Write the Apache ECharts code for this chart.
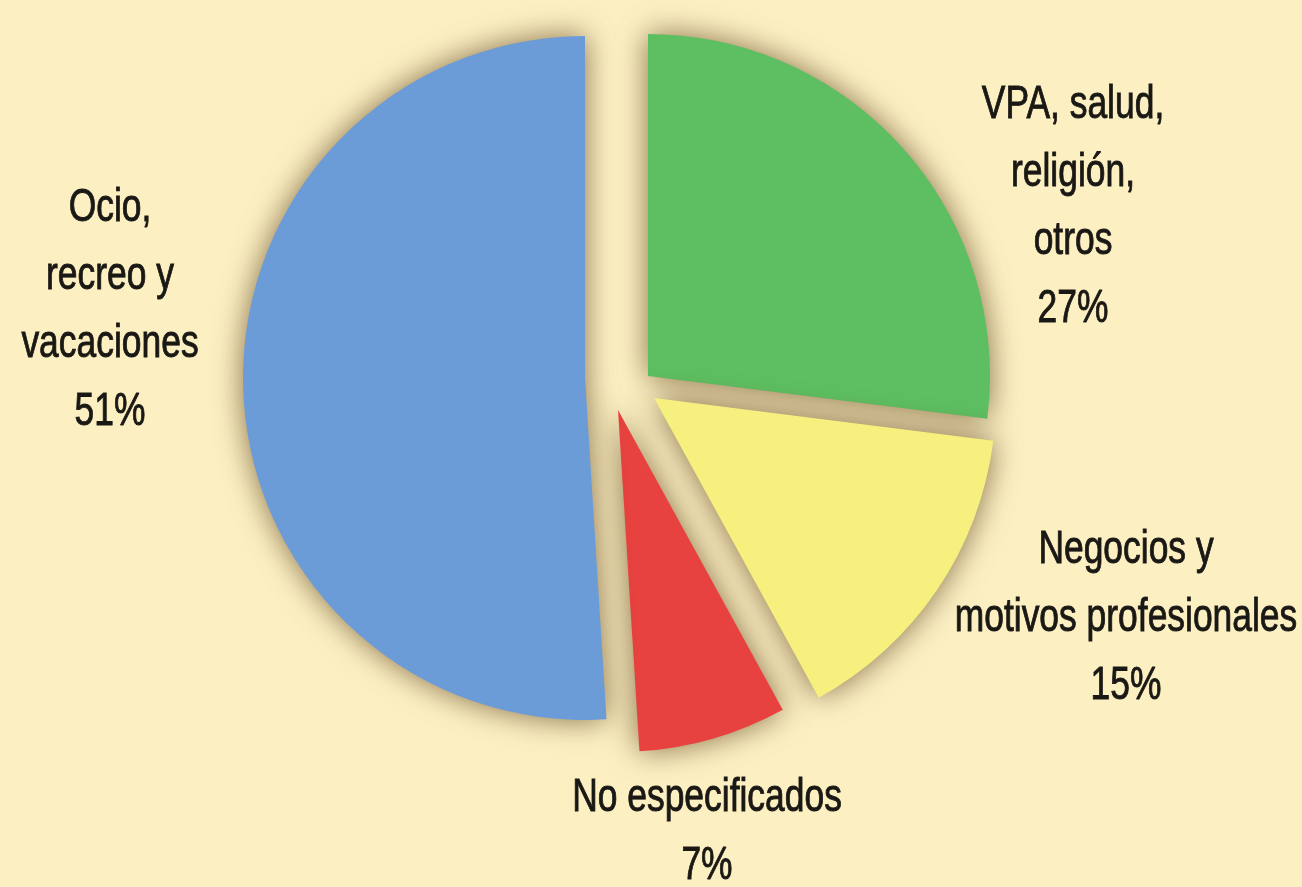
<!DOCTYPE html>
<html>
<head>
<meta charset="utf-8">
<script src="https://cdn.jsdelivr.net/npm/echarts@6/dist/echarts.min.js"></script>
<style>
html,body{margin:0;padding:0;background:#fcf0c3;}
#chart{width:1302px;height:887px;}
</style>
</head>
<body>
<div id="chart"></div>
<script>
// Data (clockwise from 12 o'clock)
const categories = ['VPA, salud,\nreligión,\notros', 'Negocios y\nmotivos profesionales', 'No especificados', 'Ocio,\nrecreo y\nvacaciones'];
const shares = [27, 15, 7, 51];

// Styling (kept separate from data)
const colors = ['#5dbf62', '#f6f17e', '#e7423f', '#6b9cd8'];
const centers = [[648, 376], [654, 398], [618, 410], [585, 378]];
const labelPos = [[1073, 207], [1126, 618], [707, 832], [110, 310]];
const RADIUS = 342;
const FONT = '46px "Liberation Sans", Arial, sans-serif';

const chart = echarts.init(document.getElementById('chart'), null, {renderer: 'canvas'});

const series = categories.map((_, i) => ({
  type: 'pie',
  center: centers[i],
  radius: [0, RADIUS],
  startAngle: 90,
  clockwise: true,
  silent: true,
  animation: false,
  label: {show: false},
  labelLine: {show: false},
  data: categories.map((name, j) => ({
    name: name,
    value: shares[j],
    itemStyle: j === i ? {
      color: colors[j],
      shadowBlur: 30,
      shadowColor: 'rgba(95,65,30,0.75)',
      shadowOffsetX: 0,
      shadowOffsetY: 0
    } : {color: 'rgba(0,0,0,0)'}
  }))
}));

const labels = categories.map((name, i) => ({
  type: 'text',
  x: labelPos[i][0],
  y: labelPos[i][1],
  scaleX: 0.77,
  silent: true,
  style: {
    text: name + '\n' + shares[i] + '%',
    font: FONT,
    lineHeight: 68,
    fill: '#1a1814',
    stroke: '#1a1814',
    lineWidth: 0.9,
    textAlign: 'center',
    textVerticalAlign: 'middle',
    shadowColor: 'rgba(255,255,255,0.85)',
    shadowBlur: 6
  }
}));

chart.setOption({
  backgroundColor: '#fcf0c3',
  animation: false,
  series: series,
  graphic: labels
});
</script>
</body>
</html>
